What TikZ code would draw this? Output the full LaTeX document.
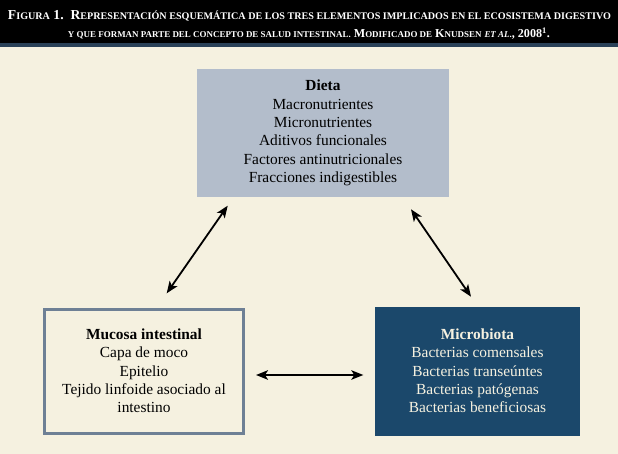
\documentclass[tikz,border=0pt]{standalone}
\usepackage{fontspec}
\setmainfont{Liberation Serif}
\usetikzlibrary{arrows.meta}
\definecolor{bg}{HTML}{F5F1E0}
\definecolor{dietfill}{HTML}{B3BDCB}
\definecolor{mucline}{HTML}{6E8095}
\definecolor{micfill}{HTML}{1B486B}
\definecolor{strip}{HTML}{2A4158}
\definecolor{lighttext}{HTML}{F5F1E0}
\newcommand\smc[1]{{\fontsize{7.4}{9}\selectfont\uppercase{#1}}}
\tikzset{
  boxbase/.style={align=center, inner sep=0pt, font=\rmfamily\fontsize{15.4}{18.3}\selectfont},
  dietbox/.style={boxbase, fill=dietfill, minimum width=252pt, minimum height=128.3pt},
  mucbox/.style={boxbase, fill=bg, draw=mucline, line width=3pt, minimum width=199pt, minimum height=124pt},
  micbox/.style={boxbase, fill=micfill, text=lighttext, minimum width=205pt, minimum height=129pt},
  twoway/.style={line width=1.8pt, {Stealth[length=12pt,width=9.5pt,inset=3pt]}-{Stealth[length=12pt,width=9.5pt,inset=3pt]}},
  headline/.style={text=white, inner sep=0pt, anchor=base, font=\rmfamily}
}
\begin{document}
\begin{tikzpicture}[x=1pt,y=-1pt]
\useasboundingbox (0,0) rectangle (618,454);
\fill[bg] (0,0) rectangle (618,454);
\fill[black] (0,0) rectangle (618,43.5);
\fill[strip] (0,43.5) rectangle (618,47);
\node[headline] (h1) at (309.5,20) {\resizebox{603pt}{!}{\bfseries F\smc{igura} 1.\ \ R\smc{epresentación esquemática de los tres elementos implicados en el ecosistema digestivo}}};
\node[headline] (h2) at (309,37.5) {\resizebox{482pt}{!}{\bfseries \smc{y que forman parte del concepto de salud intestinal.} M\smc{odificado de} K\smc{nudsen} {\itshape\smc{et al}}\smc{.}, 2008\textsuperscript{1}.}};
\node[dietbox] (dieta) at (323,133) {\textbf{Dieta}\\Macronutrientes\\Micronutrientes\\Aditivos funcionales\\Factores antinutricionales\\Fracciones indigestibles};
\node[mucbox] (mucosa) at (144,371) {\textbf{Mucosa intestinal}\\Capa de moco\\Epitelio\\Tejido linfoide asociado al\\intestino};
\node[micbox] (micro) at (477.5,371) {\textbf{Microbiota}\\Bacterias comensales\\Bacterias transeúntes\\Bacterias patógenas\\Bacterias beneficiosas};
\coordinate (a1) at (166.7,293.3);
\coordinate (a2) at (227.7,205.7);
\coordinate (b1) at (411,209.3);
\coordinate (b2) at (471,296.7);
\coordinate (c1) at (256,375);
\coordinate (c2) at (363.3,375);
\draw[twoway] (a1) -- (a2);
\draw[twoway] (b1) -- (b2);
\draw[twoway] (c1) -- (c2);
\end{tikzpicture}
\end{document}
